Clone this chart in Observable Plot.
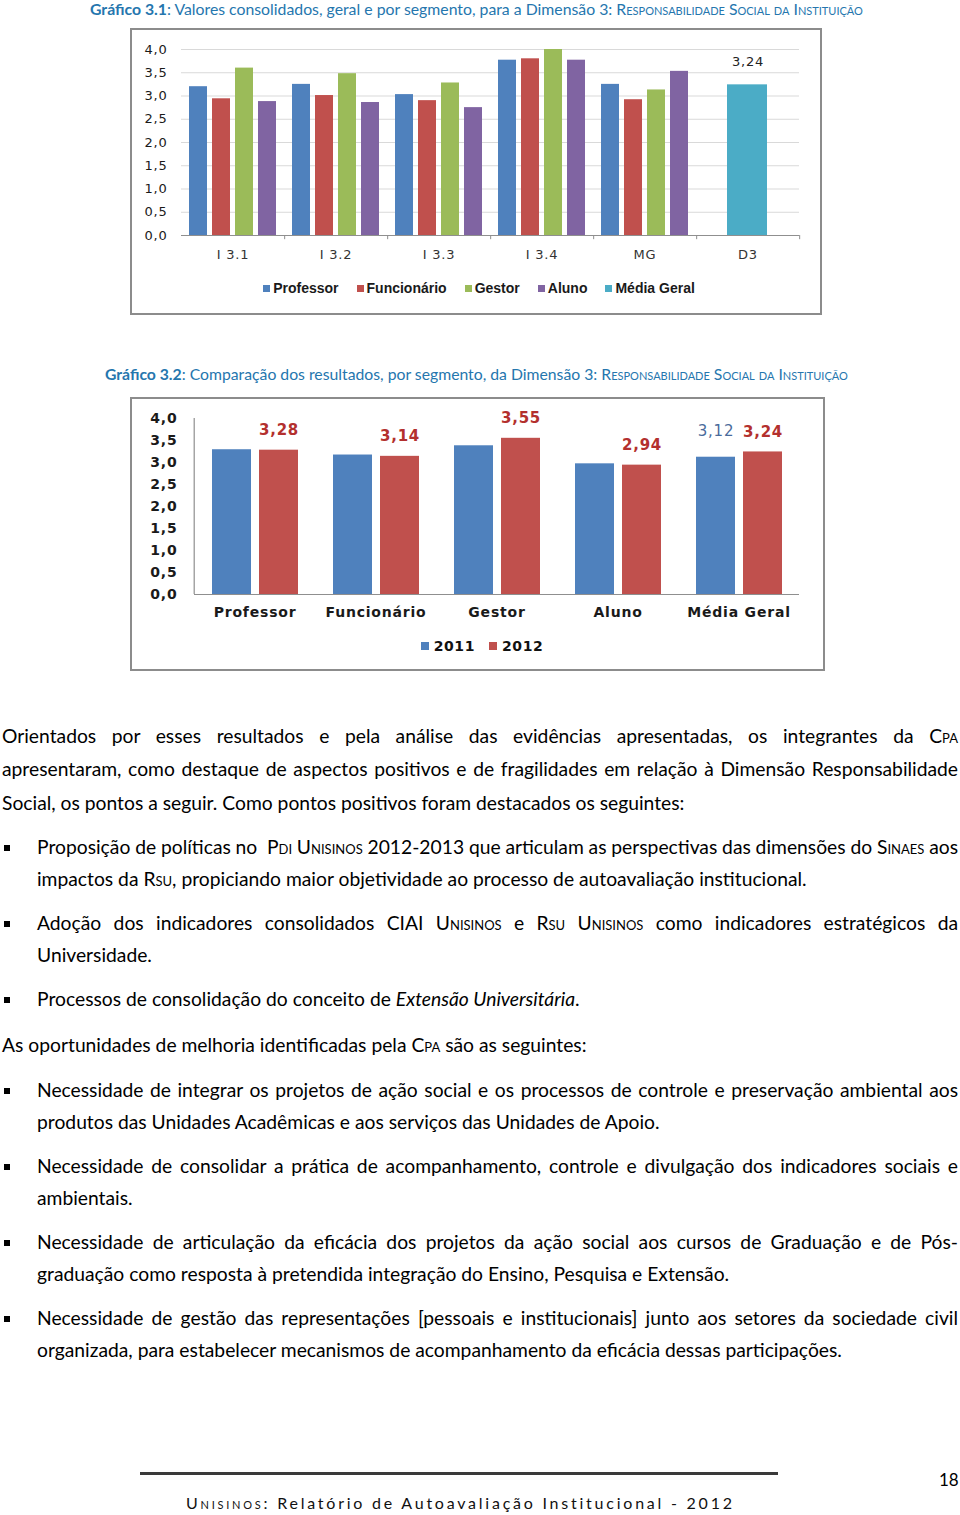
<!DOCTYPE html>
<html><head><meta charset="utf-8">
<script src="https://cdn.jsdelivr.net/npm/d3@7"></script>
<script src="https://cdn.jsdelivr.net/npm/@observablehq/plot@0.6"></script>
<style>
html,body{margin:0;padding:0;background:#fff;}
body{width:960px;height:1515px;position:relative;overflow:hidden;font-family:Lato,"Open Sans",sans-serif;color:#000;}
.cap{position:absolute;white-space:nowrap;color:#2576ae;font-family:Lato,sans-serif;font-size:14px;line-height:18px;}
.sc{font-variant:small-caps;}
.box{position:absolute;border:2px solid #8c8c8c;box-sizing:border-box;}
.chart{position:absolute;}
.ln{position:absolute;white-space:nowrap;font-size:19px;line-height:32px;}
.bul{position:absolute;left:4px;width:6px;height:6px;background:#000;}
.leg{position:absolute;display:flex;justify-content:center;align-items:center;}
.leg .it{display:flex;align-items:center;}
.leg .sq{display:inline-block;}
#c1 svg text{letter-spacing:0.8px;}
#c2 svg text{letter-spacing:0.8px;}
</style></head>
<body>
<div class="cap" id="t1"><b>Gráfico 3.1</b>: Valores consolidados, geral e por segmento, para a Dimensão 3: <span class="sc">Responsabilidade Social da Instituição</span></div>
<div class="box" style="left:130px;top:28px;width:692px;height:287px;"></div>
<div class="chart" id="c1" style="left:130px;top:28px;"></div>
<div class="leg" id="leg1" style="left:0;top:279px;width:958px;height:18px;font-family:'Liberation Sans',sans-serif;font-weight:bold;font-size:14px;color:#1a1a1a;"></div>

<div class="cap" id="t2"><b>Gráfico 3.2</b>: Comparação dos resultados, por segmento, da Dimensão 3: <span class="sc">Responsabilidade Social da Instituição</span></div>
<div class="box" style="left:130px;top:397px;width:695px;height:274px;"></div>
<div class="chart" id="c2" style="left:130px;top:397px;"></div>
<div class="leg" id="leg2" style="left:0;top:637px;width:964px;height:18px;font-family:'DejaVu Sans',sans-serif;font-weight:bold;font-size:14px;color:#111;letter-spacing:0.6px;"></div>

<div id="text"></div>
<div style="position:absolute;left:140px;top:1472px;width:638px;height:3px;background:#3a3a3a;"></div>
<div id="pg" style="position:absolute;left:939px;top:1469px;font-size:17px;line-height:22px;">18</div>
<div id="foot" style="position:absolute;left:186px;top:1492px;font-size:16px;line-height:22px;white-space:nowrap;color:#111;"><span class="sc">Unisinos</span>: Relatório de Autoavaliação Institucional - 2012</div>

<script>
// ---------- Chart 3.1 data ----------
const groups1 = ["I 3.1", "I 3.2", "I 3.3", "I 3.4", "MG", "D3"];
const segments1 = ["Professor", "Funcionário", "Gestor", "Aluno"];
const professor = [3.20, 3.25, 3.03, 3.77, 3.25];
const funcionario = [2.94, 3.01, 2.90, 3.80, 2.92];
const gestor = [3.60, 3.48, 3.28, 4.00, 3.13];
const aluno = [2.88, 2.86, 2.75, 3.77, 3.53];
const d3MediaGeral = 3.24;
const legend1 = ["Professor", "Funcionário", "Gestor", "Aluno", "Média Geral"];
const colors1 = ["#4F81BD", "#C0504D", "#9BBB59", "#8064A2", "#4BACC6"];
const yTicks = [0, 0.5, 1, 1.5, 2, 2.5, 3, 3.5, 4];

// ---------- Chart 3.2 data ----------
const segments2 = ["Professor", "Funcionário", "Gestor", "Aluno", "Média Geral"];
const years = ["2011", "2012"];
const v2011 = [3.29, 3.17, 3.38, 2.97, 3.12];
const v2012 = [3.28, 3.14, 3.55, 2.94, 3.24];
const colors2 = ["#4F81BD", "#C0504D"];

const fmt1 = d => d.toFixed(1).replace(".", ",");
const fmt2 = d => d.toFixed(2).replace(".", ",");

// ---------- Chart 1 ----------
const seriesVals = [professor, funcionario, gestor, aluno];
const rows1 = groups1.slice(0, 5).flatMap((g, i) => segments1.map((s, k) => ({group: g, series: s, value: seriesVals[k][i]})));
const rowsD3 = [{group: "D3", series: "Média Geral", value: d3MediaGeral}];
const W1 = 692, ML1 = 50, MR1 = 22;
const bw1 = (W1 - ML1 - MR1) / groups1.length;

const p1 = Plot.plot({
  width: W1, height: 240, marginLeft: ML1, marginRight: MR1, marginTop: 21, marginBottom: 33,
  style: {background: "transparent", fontFamily: "'DejaVu Sans', sans-serif", fontSize: "13px", color: "#222", overflow: "visible"},
  fx: {domain: groups1, padding: 0, label: null},
  x: {domain: segments1, paddingInner: 0.2, paddingOuter: 0.3, axis: null},
  y: {domain: [0, 4], label: null},
  color: {domain: legend1, range: colors1},
  marks: [
    Plot.gridY(yTicks, {stroke: "#d9d9d9", strokeOpacity: 1}),
    Plot.axisY(yTicks, {tickSize: 0, tickPadding: 14, tickFormat: fmt1, label: null, fill: "#1a1a1a"}),
    Plot.axisFx({anchor: "bottom", tickSize: 0, tickPadding: 14, label: null, fill: "#333"}),
    Plot.barY(rows1, {fx: "group", x: "series", y: "value", fill: "series"}),
    Plot.barY(rowsD3, {fx: "group", y: "value", fill: "series", insetLeft: 31, insetRight: 32}),
    Plot.text(rowsD3, {fx: "group", y: "value", text: d => fmt2(d.value), dy: -23, fill: "#222", fontSize: 13}),
    Plot.ruleY([0], {stroke: "#8f8f8f", strokeWidth: 1.2}),
    Plot.ruleX(groups1, {fx: d => d, x: null, dx: bw1 / 2, y1: 0, y2: -0.09, stroke: "#8f8f8f"})
  ]
});
document.getElementById("c1").appendChild(p1);

// ---------- Chart 2 ----------
const rows2 = segments2.flatMap((g, i) => [
  {group: g, year: years[0], value: v2011[i]},
  {group: g, year: years[1], value: v2012[i]}
]);
const W2 = 695, ML2 = 62, MR2 = 25;
const bw2 = (W2 - ML2 - MR2) / segments2.length;

const p2 = Plot.plot({
  width: W2, height: 231, marginLeft: ML2, marginRight: MR2, marginTop: 21, marginBottom: 34,
  style: {background: "transparent", fontFamily: "'DejaVu Sans', sans-serif", fontSize: "14px", fontWeight: "bold", color: "#222", overflow: "visible"},
  fx: {domain: segments2, padding: 0, label: null},
  x: {domain: years, paddingInner: 0.18, paddingOuter: 0.36, axis: null},
  y: {domain: [0, 4], label: null},
  color: {domain: years, range: colors2},
  marks: [
    Plot.axisY(yTicks, {tickSize: 0, tickPadding: 17, tickFormat: fmt1, label: null, fill: "#1a1a1a", fontWeight: "bold"}),
    Plot.axisFx({anchor: "bottom", tickSize: 0, tickPadding: 13, label: null, fill: "#1a1a1a", fontWeight: "bold"}),
    Plot.barY(rows2, {fx: "group", x: "year", y: "value", fill: "year"}),
    Plot.text(rows2.filter(d => d.year === "2012"), {fx: "group", x: "year", y: "value", text: d => fmt2(d.value), dy: -20, fill: "#B3302E", fontWeight: "bold", fontSize: 15}),
    Plot.text(rows2.filter(d => d.year === "2011" && d.group === "Média Geral"), {fx: "group", x: "year", y: "value", text: d => fmt2(d.value), dy: -26, fill: "#4A6B9C", fontWeight: "normal", fontSize: 15}),
    Plot.ruleY([0], {stroke: "#8f8f8f", strokeWidth: 1.2}),
    Plot.ruleX([segments2[0]], {fx: d => d, x: null, dx: -bw2 / 2, y1: 0, y2: 4, stroke: "#8f8f8f", strokeWidth: 1.2})
  ]
});
document.getElementById("c2").appendChild(p2);

// ---------- Legends ----------
function legend(el, names, cols, sq, gapSq, gapItem) {
  names.forEach((n, i) => {
    const it = document.createElement("div");
    it.className = "it";
    if (i > 0) it.style.marginLeft = gapItem + "px";
    const s = document.createElement("span");
    s.className = "sq";
    s.style.width = sq + "px"; s.style.height = sq + "px"; s.style.background = cols[i]; s.style.marginRight = gapSq + "px";
    it.appendChild(s);
    const t = document.createElement("span");
    t.textContent = n;
    it.appendChild(t);
    el.appendChild(it);
  });
}
legend(document.getElementById("leg1"), legend1, colors1, 7, 3, 18);
legend(document.getElementById("leg2"), years, colors2, 8, 5, 14);

// ---------- Body text ----------
const body = [
  [737, 2, 1, 0, 'Orientados por esses resultados e pela análise das evidências apresentadas, os integrantes da <span class="sc">Cpa</span>'],
  [770, 2, 1, 0, 'apresentaram, como destaque de aspectos positivos e de fragilidades em relação à Dimensão Responsabilidade'],
  [804, 2, 0, 0, 'Social, os pontos a seguir. Como pontos positivos foram destacados os seguintes:'],
  [848, 37, 1, 1, 'Proposição de políticas no &nbsp;<span class="sc">Pdi Unisinos</span> 2012-2013 que articulam as perspectivas das dimensões do <span class="sc">Sinaes</span> aos'],
  [880, 37, 0, 0, 'impactos da <span class="sc">Rsu</span>, propiciando maior objetividade ao processo de autoavaliação institucional.'],
  [924, 37, 1, 1, 'Adoção dos indicadores consolidados CIAI <span class="sc">Unisinos</span> e <span class="sc">Rsu</span> <span class="sc">Unisinos</span> como indicadores estratégicos da'],
  [956, 37, 0, 0, 'Universidade.'],
  [1000, 37, 0, 1, 'Processos de consolidação do conceito de <i>Extensão Universitária</i>.'],
  [1046, 2, 0, 0, 'As oportunidades de melhoria identificadas pela <span class="sc">Cpa</span> são as seguintes:'],
  [1091, 37, 1, 1, 'Necessidade de integrar os projetos de ação social e os processos de controle e preservação ambiental aos'],
  [1123, 37, 0, 0, 'produtos das Unidades Acadêmicas e aos serviços das Unidades de Apoio.'],
  [1167, 37, 1, 1, 'Necessidade de consolidar a prática de acompanhamento, controle e divulgação dos indicadores sociais e'],
  [1199, 37, 0, 0, 'ambientais.'],
  [1243, 37, 1, 1, 'Necessidade de articulação da eficácia dos projetos da ação social aos cursos de Graduação e de Pós-'],
  [1275, 37, 0, 0, 'graduação como resposta à pretendida integração do Ensino, Pesquisa e Extensão.'],
  [1319, 37, 1, 1, 'Necessidade de gestão das representações [pessoais e institucionais] junto aos setores da sociedade civil'],
  [1351, 37, 0, 0, 'organizada, para estabelecer mecanismos de acompanhamento da eficácia dessas participações.']
];
const textDiv = document.getElementById("text");
const lineEls = body.map(([y, x, j, b, html]) => {
  const d = document.createElement("div");
  d.className = "ln";
  d.style.left = x + "px";
  d.style.top = (y - 17) + "px";
  d.innerHTML = html;
  textDiv.appendChild(d);
  if (b) {
    const s = document.createElement("div");
    s.className = "bul";
    s.style.top = (y - 3) + "px";
    textDiv.appendChild(s);
  }
  return d;
});
const refs = [[2, 693], [4, 768], [10, 618], [14, 689], [16, 806]];
let sumT = 0, sumW = 0;
refs.forEach(([i, t]) => { sumT += t; sumW += lineEls[i].getBoundingClientRect().width; });
const fs = 19 * sumT / sumW;
lineEls.forEach(el => el.style.fontSize = fs + "px");
body.forEach(([y, x, j], i) => {
  if (!j) return;
  const el = lineEls[i];
  const w = el.getBoundingClientRect().width;
  const n = (el.textContent.match(/[ \u00a0]/g) || []).length;
  el.style.wordSpacing = ((958 - x - w) / n) + "px";
});

function fitCap(id, x0, x1, yc) {
  const el = document.getElementById(id);
  const w = el.getBoundingClientRect().width;
  el.style.fontSize = (14 * (x1 - x0) / w) + "px";
  el.style.left = x0 + "px";
  el.style.top = (yc - 9) + "px";
}
fitCap("t1", 90, 869, 9);
fitCap("t2", 105, 853, 374);

const foot = document.getElementById("foot");
const fw = foot.getBoundingClientRect().width;
const nc = foot.textContent.length;
foot.style.letterSpacing = ((549 - fw) / nc) + "px";
</script>
</body></html>
